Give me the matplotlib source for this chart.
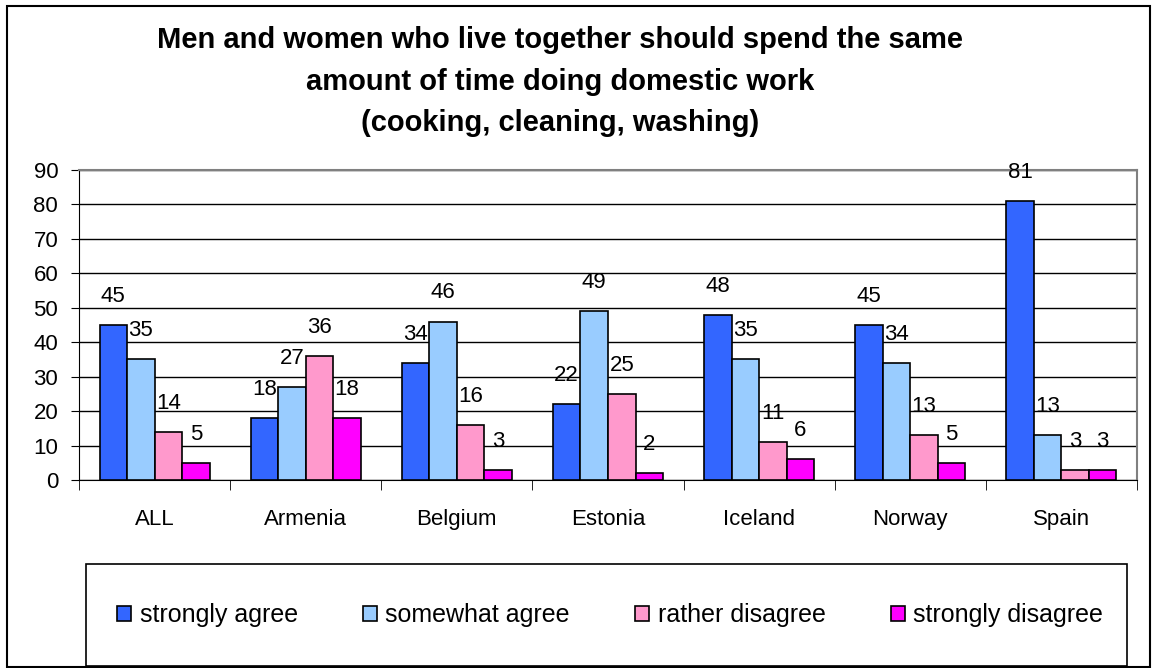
import numpy as np
import matplotlib.pyplot as plt
from matplotlib.patches import Rectangle

plt.rcParams["font.family"] = ["Liberation Sans", "DejaVu Sans"]

countries = ["ALL", "Armenia", "Belgium", "Estonia", "Iceland", "Norway", "Spain"]
series_names = ["strongly agree", "somewhat agree", "rather disagree", "strongly disagree"]
strongly_agree = [45, 18, 34, 22, 48, 45, 81]
somewhat_agree = [35, 27, 46, 49, 35, 34, 13]
rather_disagree = [14, 36, 16, 25, 11, 13, 3]
strongly_disagree = [5, 18, 3, 2, 6, 5, 3]
colors = ["#3366FF", "#99CCFF", "#FF99CC", "#FF00FF"]

title = ("Men and women who live together should spend the same\n"
         "amount of time doing domestic work\n"
         "(cooking, cleaning, washing)")

W, H = 1152, 668


def px_box(x0, y0, x1, y1):
    # pixel box (top-left origin) -> figure fraction rect
    return (x0 / W, 1 - y1 / H), (x1 - x0) / W, (y1 - y0) / H


def main():
    fig = plt.figure(figsize=(W / 100, H / 100), dpi=100)

    # outer chart border
    xy, w, h = px_box(7, 6, 1150, 667)
    fig.patches.append(Rectangle(xy, w, h, transform=fig.transFigure,
                                 fill=False, edgecolor="black", linewidth=1.5))
    # legend border
    xy, w, h = px_box(86, 564, 1127, 666)
    fig.patches.append(Rectangle(xy, w, h, transform=fig.transFigure,
                                 fill=False, edgecolor="black", linewidth=1.2))

    ax = fig.add_axes([79 / W, 1 - 480 / H, (1137 - 79) / W, 310 / H])
    x = np.arange(len(countries))
    width = 0.182
    data = [strongly_agree, somewhat_agree, rather_disagree, strongly_disagree]
    handles = []
    for k, vals in enumerate(data):
        pos = x + (k - 1.5) * width
        b = ax.bar(pos, vals, width, color=colors[k], edgecolor="black", linewidth=1.2,
                   label=series_names[k], zorder=3)
        handles.append(b)
        for px, v in zip(pos, vals):
            ax.annotate(str(v), (px, v), xytext=(0, 13), textcoords="offset points",
                        ha="center", va="bottom", fontsize=16, zorder=4)

    ax.set_xlim(-0.5, len(countries) - 0.5)
    ax.set_ylim(0, 90)
    ax.set_yticks(np.arange(0, 91, 10))
    ax.yaxis.grid(True, color="black", linewidth=1)
    ax.set_axisbelow(True)
    ax.set_xticks(x)
    ax.set_xticklabels(countries, fontsize=16)
    ax.set_xticks(np.arange(-0.5, len(countries)), minor=True)
    ax.tick_params(axis="x", which="major", length=0, pad=21)
    ax.tick_params(axis="x", which="minor", length=7, direction="out")
    ax.tick_params(axis="y", labelsize=16, length=6, direction="out", pad=9)
    for side in ["top", "right"]:
        ax.spines[side].set_color("#808080")
        ax.spines[side].set_linewidth(1.5)
    ax.spines["left"].set_color("black")
    ax.spines["bottom"].set_color("black")

    fig.text(560 / W, 1 - 26 / H, title, ha="center", va="top", fontsize=21,
             fontweight="bold", linespacing=1.62)

    fig.legend(handles=handles, loc="center", bbox_to_anchor=(610 / W, 1 - 615 / H),
               ncol=4, fontsize=18, frameon=False,
               handlelength=0.56, handleheight=0.56, handletextpad=0.35,
               columnspacing=2.6, borderpad=0)

    fig.savefig("out.png", dpi=100)


if __name__ == "__main__":
    main()
